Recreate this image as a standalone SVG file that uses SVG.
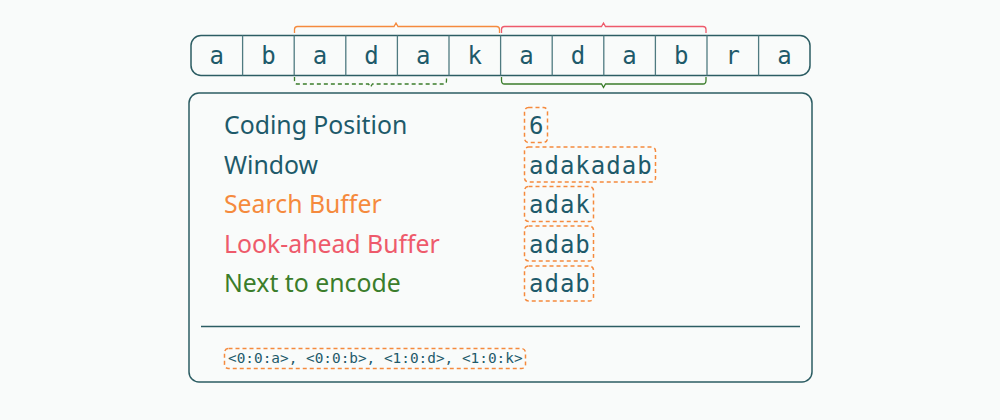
<svg xmlns="http://www.w3.org/2000/svg" width="1000" height="420" viewBox="0 0 1000 420">
<style>
.bg{fill:#f9fbfa}
.frame{fill:none;stroke:#2c5d63;stroke-width:1.5}
.cellline{stroke:#4f7a80;stroke-width:1.3}
.cell{font-family:"DejaVu Sans Mono",monospace;font-size:24px;fill:#1e5a6a;text-anchor:middle}
.lbl{font-family:"Noto Sans","Open Sans",sans-serif;font-size:24.8px}
.val{font-family:"DejaVu Sans Mono",monospace;font-size:24px;fill:#1e5a6a;letter-spacing:1px}
.dash{fill:none;stroke:#f58a3d;stroke-width:1.5;stroke-dasharray:4 3}
.code{font-family:"DejaVu Sans Mono",monospace;font-size:14.4px;fill:#1e5a6a}
</style>
<rect class="bg" x="0" y="0" width="1000" height="420"/>
<g id="strip">
<rect class="frame" x="191" y="35.5" width="619" height="40" rx="10"/>
<g class="cellline">
<line x1="242.6" y1="35.5" x2="242.6" y2="75.5"/>
<line x1="294.2" y1="35.5" x2="294.2" y2="75.5"/>
<line x1="345.8" y1="35.5" x2="345.8" y2="75.5"/>
<line x1="397.4" y1="35.5" x2="397.4" y2="75.5"/>
<line x1="449" y1="35.5" x2="449" y2="75.5"/>
<line x1="500.6" y1="35.5" x2="500.6" y2="75.5"/>
<line x1="552.2" y1="35.5" x2="552.2" y2="75.5"/>
<line x1="603.8" y1="35.5" x2="603.8" y2="75.5"/>
<line x1="655.4" y1="35.5" x2="655.4" y2="75.5"/>
<line x1="707" y1="35.5" x2="707" y2="75.5"/>
<line x1="758.6" y1="35.5" x2="758.6" y2="75.5"/>
</g>
<text class="cell" x="216.8" y="64">a</text>
<text class="cell" x="268.4" y="64">b</text>
<text class="cell" x="320" y="64">a</text>
<text class="cell" x="371.6" y="64">d</text>
<text class="cell" x="423.2" y="64">a</text>
<text class="cell" x="474.8" y="64">k</text>
<text class="cell" x="526.4" y="64">a</text>
<text class="cell" x="578" y="64">d</text>
<text class="cell" x="629.6" y="64">a</text>
<text class="cell" x="681.2" y="64">b</text>
<text class="cell" x="732.8" y="64">r</text>
<text class="cell" x="784.4" y="64">a</text>
</g>
<g id="connectors" fill="none" stroke-width="1.3">
<path id="search-brace" stroke="#f58a3d" d="M294.5,33 V29.5 Q294.5,26.5 297.5,26.5 H394 L396,23 L398,26.5 H496.5 Q499.5,26.5 499.5,29.5 V33"/>
<path id="lookahead-brace" stroke="#ee5a6b" d="M501.5,33 V29.5 Q501.5,26.5 504.5,26.5 H601.5 L603.5,23 L605.5,26.5 H703 Q706,26.5 706,29.5 V33"/>
<path id="next-brace" stroke="#3b7d2b" stroke-dasharray="4 3" d="M294.5,77 V80.5 Q294.5,84 297.5,84 H368.5 L370.5,87 L372.5,84 H443.5 Q446.5,84 446.5,80.5 V77"/>
<path id="window-brace" stroke="#3b7d2b" d="M501.5,77 V80.5 Q501.5,84 504.5,84 H601.5 L603.5,87.5 L605.5,84 H703 Q706,84 706,80.5 V77"/>
</g>
<g id="panel">
<rect class="frame" x="189" y="93" width="623" height="289" rx="10"/>
<line x1="201" y1="326.5" x2="800" y2="326.5" stroke="#2c5d63" stroke-width="1.3"/>
</g>
<g id="labels">
<text class="lbl" x="224" y="134" fill="#1e5a6a">Coding Position</text>
<text class="lbl" x="224" y="173.5" fill="#1e5a6a">Window</text>
<text class="lbl" x="224" y="213" fill="#f58a3d">Search Buffer</text>
<text class="lbl" x="224" y="252.5" fill="#ee5a6b">Look-ahead Buffer</text>
<text class="lbl" x="224" y="292" fill="#3b7d2b">Next to encode</text>
</g>
<g id="values">
<rect class="dash" x="524.5" y="107.5" width="23" height="35" rx="4"/>
<text class="val" x="529" y="134">6</text>
<rect class="dash" x="524.5" y="147" width="131" height="35" rx="4"/>
<text class="val" x="529" y="173.5">adakadab</text>
<rect class="dash" x="524.5" y="186.5" width="69" height="35" rx="4"/>
<text class="val" x="529" y="213">adak</text>
<rect class="dash" x="524.5" y="226" width="69" height="35" rx="4"/>
<text class="val" x="529" y="252.5">adab</text>
<rect class="dash" x="524.5" y="266" width="69" height="35" rx="4"/>
<text class="val" x="529" y="292">adab</text>
</g>
<g id="output">
<rect class="dash" x="224.5" y="348.5" width="301" height="20" rx="4"/>
<text class="code" x="228" y="363">&lt;0:0:a&gt;, &lt;0:0:b&gt;, &lt;1:0:d&gt;, &lt;1:0:k&gt;</text>
</g>
</svg>
